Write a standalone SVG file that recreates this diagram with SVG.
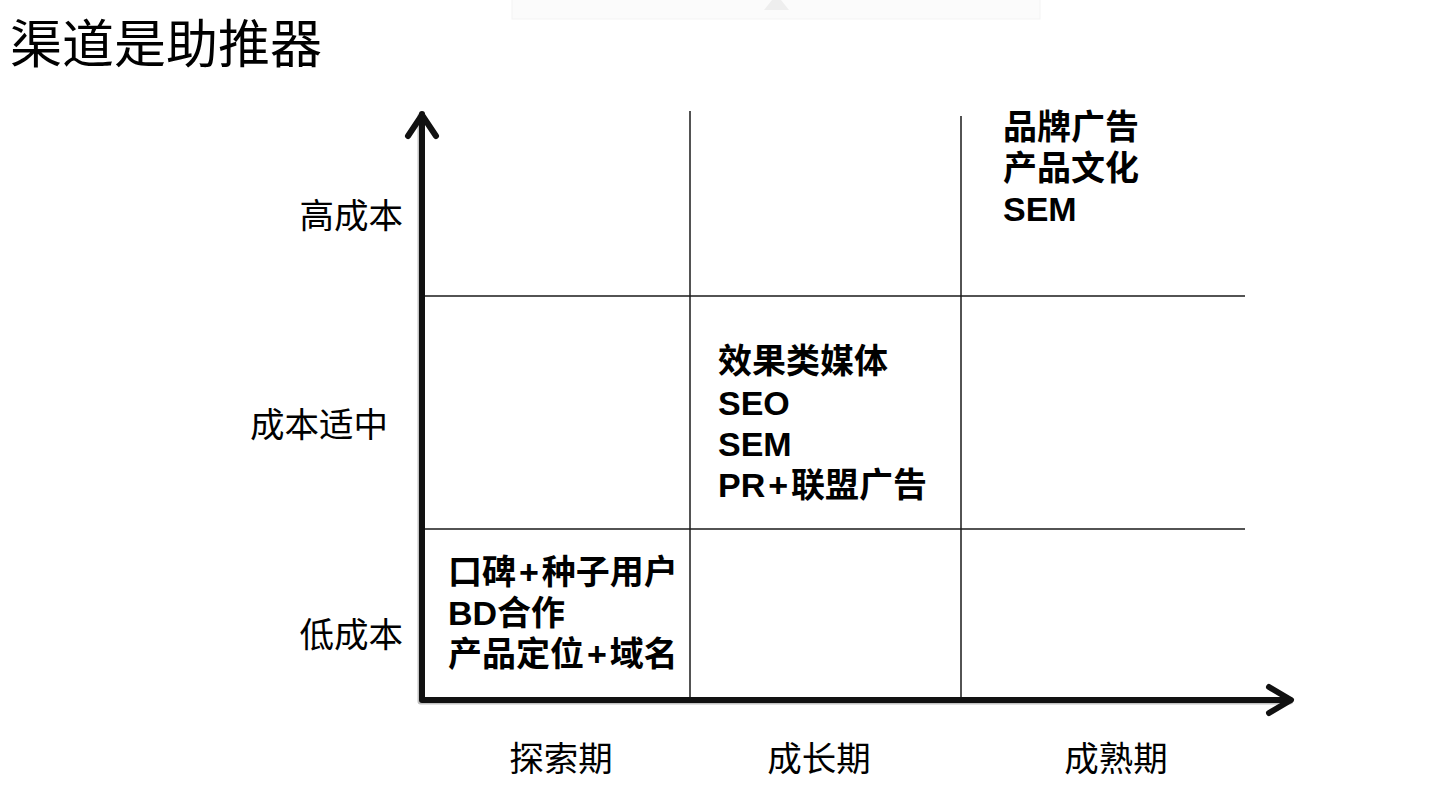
<svg xmlns="http://www.w3.org/2000/svg" width="1439" height="788" viewBox="0 0 1439 788">
<style>
.reg{font-family:"Noto Sans CJK SC","Noto Sans",sans-serif;font-weight:400;fill:#000;}
.bold{font-family:"Liberation Sans","Noto Sans CJK SC",sans-serif;font-weight:700;fill:#000;font-size:34px;}
.lbl{font-size:34.5px;}
.grid{stroke:#1a1a1a;stroke-width:1.5;fill:none;}
.axis{stroke:#111;stroke-width:6;fill:none;stroke-linecap:round;stroke-linejoin:round;}
.axshadow{stroke:#9a9a9a;stroke-width:6;fill:none;stroke-linecap:round;stroke-linejoin:round;opacity:0.6;}
</style>
<rect width="1439" height="788" fill="#fff"/>
<g id="top-tab">
<rect x="512" y="-1" width="528" height="20" fill="#fbfbfb" stroke="#f3f3f3" stroke-width="1"/>
<polygon points="764,10 772,0 781,0 789,10" fill="#eeeeee"/>
</g>
<g id="title"><text class="reg" x="10" y="63" font-size="52">渠道是助推器</text></g>
<g id="connectors">
<line class="grid" x1="690" y1="111" x2="690" y2="698"/>
<line class="grid" x1="961" y1="116" x2="961" y2="698"/>
<line class="grid" x1="424" y1="296" x2="1245" y2="296"/>
<line class="grid" x1="424" y1="529" x2="1245" y2="529"/>
<polyline class="axshadow" points="420.5,116 420.5,701.5 1290,701.5"/>
<polyline class="axis" points="422,114 422,700 1290,700"/>
<polyline class="axis" points="408,136 422,115 436,136"/>
<polyline class="axis" points="1269,687 1291,700 1269,713"/>
</g>
<g id="y-labels">
<text class="reg lbl" x="403" y="228" text-anchor="end">高成本</text>
<text class="reg lbl" x="250" y="437">成本适中</text>
<text class="reg lbl" x="403" y="647" text-anchor="end">低成本</text>
</g>
<g id="x-labels">
<text class="reg lbl" x="561" y="771" text-anchor="middle">探索期</text>
<text class="reg lbl" x="819" y="771" text-anchor="middle">成长期</text>
<text class="reg lbl" x="1116" y="771" text-anchor="middle">成熟期</text>
</g>
<g id="cell-high">
<text class="bold"><tspan x="1003" y="139">品牌广告</tspan><tspan x="1003" y="180">产品文化</tspan><tspan x="1003" y="221">SEM</tspan></text>
</g>
<g id="cell-mid">
<text class="bold"><tspan x="718" y="373">效果类媒体</tspan><tspan x="718" y="415">SEO</tspan><tspan x="718" y="456">SEM</tspan><tspan x="718" y="497">PR</tspan><tspan dx="3">+</tspan><tspan dx="3">联盟广告</tspan></text>
</g>
<g id="cell-low">
<text class="bold"><tspan x="448" y="584">口碑</tspan><tspan dx="3">+</tspan><tspan dx="3">种子用户</tspan><tspan x="448" y="625">BD合作</tspan><tspan x="448" y="666">产品定位</tspan><tspan dx="3">+</tspan><tspan dx="3">域名</tspan></text>
</g>
</svg>
